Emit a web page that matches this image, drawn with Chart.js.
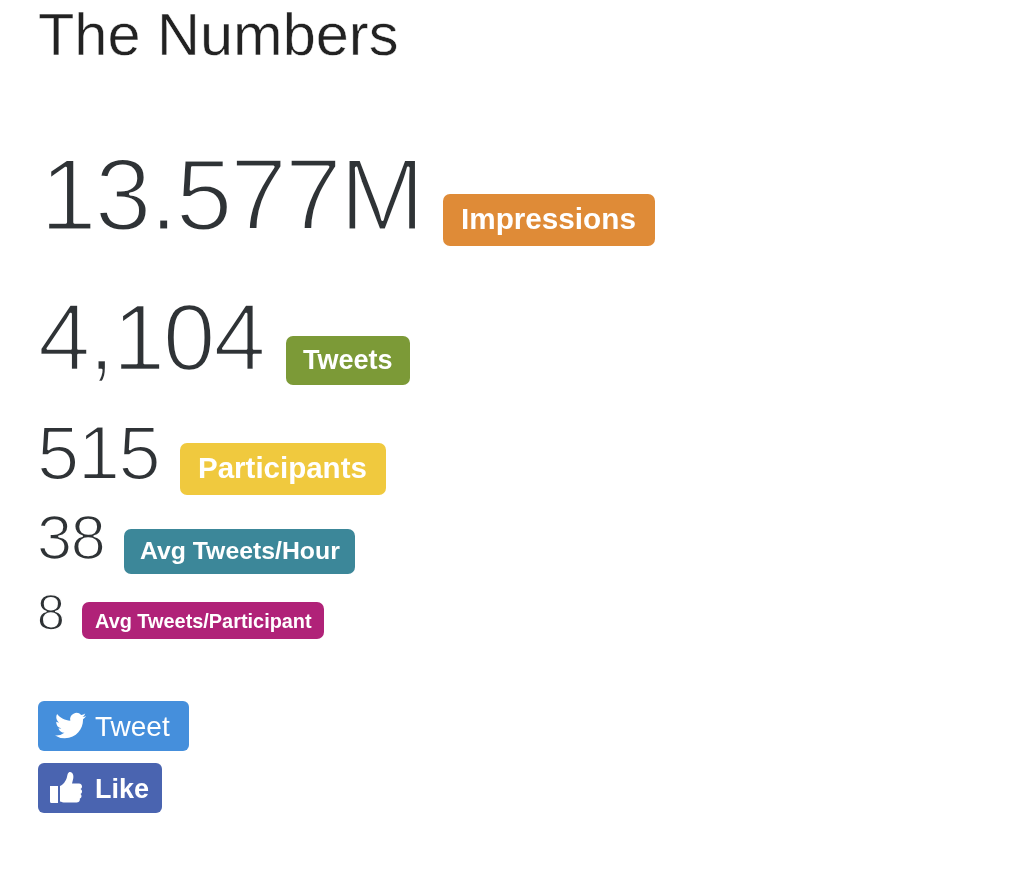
<!DOCTYPE html>
<html>
<head>
<meta charset="utf-8">
<title>The Numbers</title>
<script src="https://cdn.jsdelivr.net/npm/chart.js@4/dist/chart.umd.min.js"></script>
<style>
  html, body { margin: 0; padding: 0; background: #fff; }
  canvas { display: block; }
</style>
</head>
<body>
<canvas id="numbers" width="1024" height="886"></canvas>
<script>
// datos
const categories = ['Impressions', 'Tweets', 'Participants', 'Avg Tweets/Hour', 'Avg Tweets/Participant'];
const values = [13577000, 4104, 515, 38, 8];
const valueLabels = ['13.577M', '4,104', '515', '38', '8'];
const badgeColors = ['#df8b37', '#7c9a37', '#f0c93e', '#3c8799', '#b02278'];

// layout of each row: the badges follow the number, their size does not encode the value
const rows = [
  { left: 443, right: 655, top: 194, bottom: 246, numX: 40, base: 230, numSize: 102, textX: 461, textBase: 229, textSize: 29.7 },
  { left: 286, right: 410, top: 336, bottom: 385, numX: 38, base: 370, numSize: 94, textX: 303, textBase: 369, textSize: 27 },
  { left: 180, right: 386, top: 443, bottom: 495, numX: 37, base: 479, numSize: 76, textX: 198, textBase: 478, textSize: 29.5 },
  { left: 124, right: 355, top: 529, bottom: 574, numX: 37, base: 559, numSize: 63, textX: 140, textBase: 559, textSize: 24.8 },
  { left: 82, right: 324, top: 602, bottom: 639, numX: 37, base: 630, numSize: 50, textX: 95, textBase: 628, textSize: 19.9 }
];

const birdPath = 'M23.953 4.57a10 10 0 01-2.825.775 4.958 4.958 0 002.163-2.723c-.951.555-2.005.959-3.127 1.184a4.92 4.92 0 00-8.384 4.482C7.69 8.095 4.067 6.13 1.64 3.162a4.822 4.822 0 00-.666 2.475c0 1.71.87 3.213 2.188 4.096a4.904 4.904 0 01-2.228-.616v.06a4.923 4.923 0 003.946 4.827 4.996 4.996 0 01-2.212.085 4.936 4.936 0 004.604 3.417 9.867 9.867 0 01-6.102 2.105c-.39 0-.779-.023-1.17-.067a13.995 13.995 0 007.557 2.209c9.053 0 13.998-7.496 13.998-13.985 0-.21 0-.42-.015-.63A9.935 9.935 0 0024 4.59z';
const thumbPath = 'M0 14h8v17H1.500A1.500 1.500 0 010 29.500zM10 14c3-1 6-5 7-9 .5-2.500 1-5 3-5 3 0 4 4 3 7.500l-1 4h7c2 0 3 1.500 3 3 0 1-.5 2-1.500 2.500 1 .5 1.500 1.500 1.500 2.500s-.5 2-1.500 2.500c.8.7 1 1.500 1 2.300 0 1-.7 2-1.700 2.300.3 1.200 0 3.900-3 3.900H15c-2 0-3.500-.5-5-1z';

function roundedBox(ctx, x, y, w, h, r, color) {
  ctx.fillStyle = color;
  ctx.beginPath();
  ctx.roundRect(x, y, w, h, r);
  ctx.fill();
}

// Liberation has no light weight, so the glyphs are thinned with a white outline
function lightText(ctx, text, x, y, size, color) {
  ctx.font = '400 ' + size + 'px "Liberation Sans"';
  ctx.letterSpacing = (-0.02 * size) + 'px';
  ctx.fillStyle = color;
  ctx.fillText(text, x, y);
  ctx.strokeStyle = '#fff';
  ctx.lineWidth = size * 0.027;
  ctx.lineJoin = 'round';
  ctx.strokeText(text, x, y);
  ctx.letterSpacing = '0px';
}

const statPage = {
  id: 'statPage',
  afterDatasetsUpdate(chart) {
    chart.getDatasetMeta(0).data.forEach((bar, i) => {
      const r = rows[i];
      bar.base = r.left;
      bar.x = r.right;
      bar.y = (r.top + r.bottom) / 2;
      bar.height = r.bottom - r.top;
    });
  },
  afterDatasetsDraw(chart) {
    const ctx = chart.ctx;
    ctx.save();
    ctx.textBaseline = 'alphabetic';
    ctx.textAlign = 'left';

    ctx.fillStyle = '#222';
    ctx.font = '400 59.5px "Liberation Sans"';
    ctx.fillText('The Numbers', 38, 55);
    ctx.strokeStyle = '#fff';
    ctx.lineWidth = 0.5;
    ctx.strokeText('The Numbers', 38, 55);

    rows.forEach((r, i) => {
      lightText(ctx, valueLabels[i], r.numX, r.base, r.numSize, '#2f3336');
      ctx.fillStyle = '#fff';
      ctx.font = 'bold ' + r.textSize + 'px "Liberation Sans"';
      ctx.fillText(categories[i], r.textX, r.textBase);
    });

    // botones
    roundedBox(ctx, 38, 701, 151, 50, 6, '#458fdc');
    roundedBox(ctx, 38, 763, 124, 50, 6, '#4a64b0');
    ctx.fillStyle = '#fff';
    ctx.save();
    ctx.translate(55, 710);
    ctx.scale(1.3, 1.3);
    ctx.fill(new Path2D(birdPath));
    ctx.restore();
    ctx.save();
    ctx.translate(50, 772);
    ctx.fill(new Path2D(thumbPath));
    ctx.restore();
    ctx.font = '400 28px "Liberation Sans"';
    ctx.fillText('Tweet', 95, 736);
    ctx.font = 'bold 27px "Liberation Sans"';
    ctx.fillText('Like', 95, 798);
    ctx.restore();
  }
};

new Chart(document.getElementById('numbers').getContext('2d'), {
  type: 'bar',
  data: {
    labels: categories,
    datasets: [{
      data: values,
      backgroundColor: badgeColors,
      borderRadius: 7,
      borderSkipped: false
    }]
  },
  options: {
    indexAxis: 'y',
    responsive: false,
    animation: false,
    layout: { padding: 0 },
    plugins: { legend: { display: false }, tooltip: { enabled: false } },
    scales: {
      x: { type: 'logarithmic', display: false },
      y: { display: false }
    }
  },
  plugins: [statPage]
});
</script>
</body>
</html>
